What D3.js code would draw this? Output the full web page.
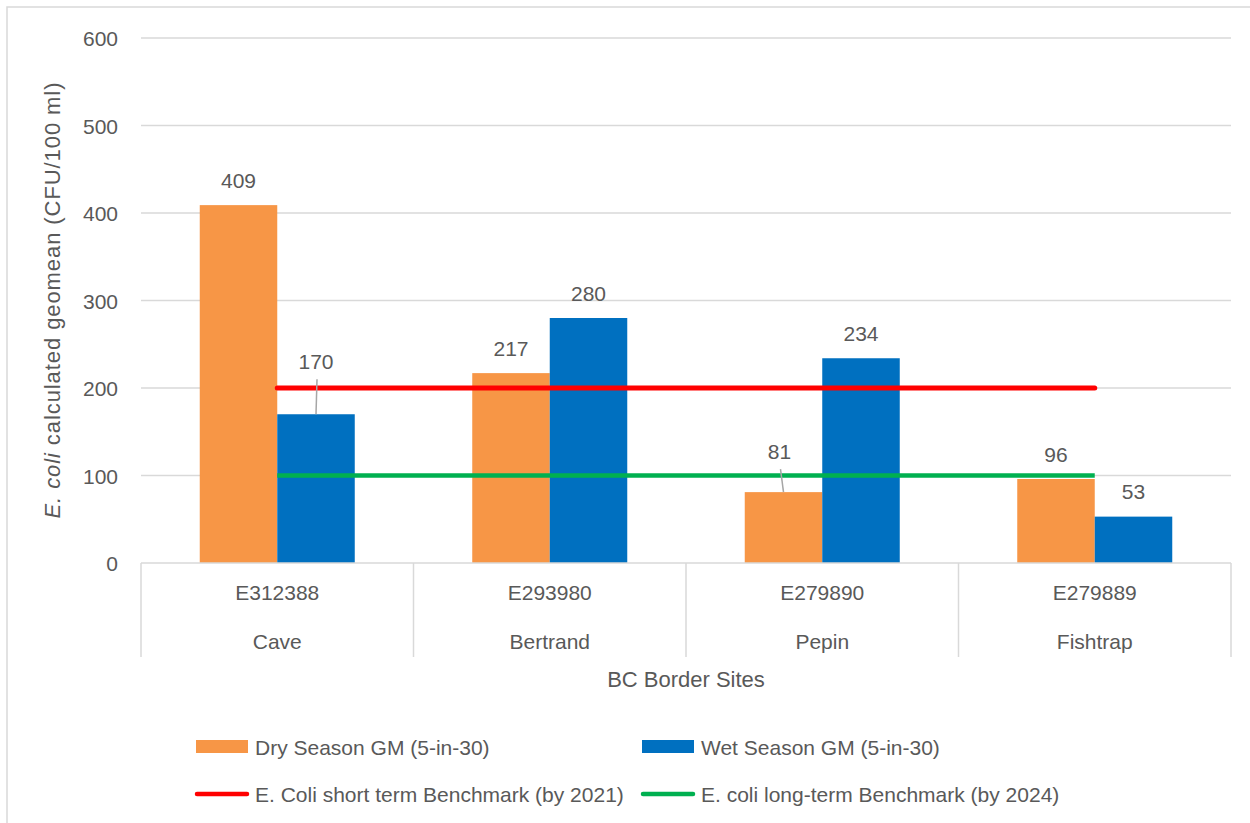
<!DOCTYPE html>
<html>
<head>
<meta charset="utf-8">
<script src="https://cdn.jsdelivr.net/npm/d3@7"></script>
<style>
  html, body { margin: 0; padding: 0; background: #fff; }
  svg { display: block; }
  text { font-family: "Liberation Sans", Arial, sans-serif; fill: #595959; }
</style>
</head>
<body>
<svg id="chart" width="1250" height="823"></svg>
<script>
// Site codes and names (two-level category axis)
const siteCodes = ["E312388", "E293980", "E279890", "E279889"];
const siteNames = ["Cave", "Bertrand", "Pepin", "Fishtrap"];

// Seasonal geometric means, CFU/100 ml
const seriesNames = ["Dry Season GM (5-in-30)", "Wet Season GM (5-in-30)"];
const dryValues = [409, 217, 81, 96];
const wetValues = [170, 280, 234, 53];

// Benchmarks
const shortTermName = "E. Coli short term Benchmark (by 2021)";
const longTermName = "E. coli long-term Benchmark (by 2024)";
const shortTermValues = [200, 200, 200, 200];
const longTermValues = [100, 100, 100, 100];

// Value axis ticks
const yTicks = [0, 100, 200, 300, 400, 500, 600];

const colors = { dry: "#f79646", wet: "#0070c0", shortTerm: "#ff0000", longTerm: "#00b050" };
const textColor = "#595959";
const gridColor = "#d9d9d9";

// Labels that were pulled up with a leader line: [seriesIndex, siteIndex, lift, dx]
const liftedLabels = [[1, 0, 53, 0], [0, 2, 41, -4]];

const svg = d3.select("#chart");
const plot = { left: 141, right: 1231, top: 38, bottom: 563 };

// Chart frame (only top/left edges fall inside the view)
svg.append("rect")
  .attr("x", 7).attr("y", 7).attr("width", 1300).attr("height", 900)
  .attr("fill", "none").attr("stroke", gridColor).attr("stroke-width", 1.5);

const x = d3.scaleBand().domain(siteCodes).range([plot.left, plot.right]).padding(0);
const xs = d3.scaleBand().domain([0, 1]).range([0, x.bandwidth()]).paddingInner(0).paddingOuter(0.758);
const y = d3.scaleLinear().domain([0, 600]).range([plot.bottom, plot.top]);

// Gridlines
svg.append("g").selectAll("line").data(yTicks.filter(d => d > 0)).join("line")
  .attr("x1", plot.left).attr("x2", plot.right)
  .attr("y1", d => y(d)).attr("y2", d => y(d))
  .attr("stroke", gridColor).attr("stroke-width", 1.5);

// Y axis tick labels
const yAxis = d3.axisLeft(y).tickValues(yTicks).tickSize(0).tickPadding(0);
const yg = svg.append("g").attr("transform", `translate(${plot.left - 23},0)`).call(yAxis);
yg.select(".domain").remove();
yg.selectAll("text").attr("font-size", 21).attr("fill", textColor)
  .style("font-family", "'Liberation Sans', Arial, sans-serif").attr("dy", "0.36em");

// Bars
const barData = [];
siteCodes.forEach((c, i) => {
  barData.push({ s: 0, i, code: c, v: dryValues[i] });
  barData.push({ s: 1, i, code: c, v: wetValues[i] });
});
svg.append("g").selectAll("rect").data(barData).join("rect")
  .attr("x", d => x(d.code) + xs(d.s))
  .attr("width", xs.bandwidth())
  .attr("y", d => y(d.v))
  .attr("height", d => y(0) - y(d.v))
  .attr("fill", d => d.s === 0 ? colors.dry : colors.wet);

// Category axis: baseline, separators and two label rows
const axisG = svg.append("g");
axisG.append("line")
  .attr("x1", plot.left).attr("x2", plot.right)
  .attr("y1", y(0)).attr("y2", y(0))
  .attr("stroke", gridColor).attr("stroke-width", 1.5);
const seps = siteCodes.map(c => x(c)).concat([x(siteCodes[siteCodes.length - 1]) + x.bandwidth()]);
axisG.selectAll("line.sep").data(seps).join("line").attr("class", "sep")
  .attr("x1", d => d).attr("x2", d => d)
  .attr("y1", y(0)).attr("y2", y(0) + 94)
  .attr("stroke", gridColor).attr("stroke-width", 1.5);
axisG.selectAll("text.code").data(siteCodes).join("text").attr("class", "code")
  .attr("x", d => x(d) + x.bandwidth() / 2).attr("y", y(0) + 29)
  .attr("dy", "0.36em").attr("text-anchor", "middle").attr("font-size", 21)
  .text(d => d);
axisG.selectAll("text.name").data(siteNames).join("text").attr("class", "name")
  .attr("x", (d, i) => x(siteCodes[i]) + x.bandwidth() / 2).attr("y", y(0) + 78)
  .attr("dy", "0.36em").attr("text-anchor", "middle").attr("font-size", 21)
  .text(d => d);

// Axis titles
svg.append("text")
  .attr("x", (plot.left + plot.right) / 2).attr("y", 679).attr("dy", "0.36em")
  .attr("text-anchor", "middle").attr("font-size", 22)
  .text("BC Border Sites");

const yTitle = svg.append("text")
  .attr("transform", `translate(60,${(plot.top + plot.bottom) / 2}) rotate(-90)`)
  .attr("text-anchor", "middle").attr("font-size", 22)
  .attr("textLength", 436).attr("lengthAdjust", "spacing");
yTitle.append("tspan").attr("font-style", "italic").text("E. coli");
yTitle.append("tspan").text(" calculated geomean  (CFU/100 ml)");

// Benchmark lines across site centres
const lineGen = d3.line().x((d, i) => x(siteCodes[i]) + x.bandwidth() / 2).y(d => y(d));
svg.append("path").datum(shortTermValues).attr("d", lineGen)
  .attr("fill", "none").attr("stroke", colors.shortTerm).attr("stroke-width", 5).attr("stroke-linecap", "round");
svg.append("path").datum(longTermValues).attr("d", lineGen)
  .attr("fill", "none").attr("stroke", colors.longTerm).attr("stroke-width", 4.5);

// Data labels
const labelG = svg.append("g");
barData.forEach(d => {
  const cx = x(d.code) + xs(d.s) + xs.bandwidth() / 2;
  const top = y(d.v);
  const lift = liftedLabels.find(l => l[0] === d.s && l[1] === d.i);
  if (lift) {
    const ly = top - lift[2];
    labelG.append("line")
      .attr("x1", cx + lift[3] + 1).attr("y1", ly + 18)
      .attr("x2", cx).attr("y2", top)
      .attr("stroke", "#a6a6a6").attr("stroke-width", 1.5);
    labelG.append("text").attr("x", cx + lift[3]).attr("y", ly).attr("dy", "0.36em")
      .attr("text-anchor", "middle").attr("font-size", 21).text(d.v);
  } else {
    labelG.append("text").attr("x", cx).attr("y", top - 25).attr("dy", "0.36em")
      .attr("text-anchor", "middle").attr("font-size", 21).text(d.v);
  }
});

// Legend
const legend = svg.append("g");
const legendItems = [
  { name: seriesNames[0], type: "rect", color: colors.dry, x: 196, y: 747 },
  { name: seriesNames[1], type: "rect", color: colors.wet, x: 642, y: 747 },
  { name: shortTermName, type: "line", color: colors.shortTerm, x: 196, y: 794 },
  { name: longTermName, type: "line", color: colors.longTerm, x: 642, y: 794 }
];
legendItems.forEach(it => {
  if (it.type === "rect") {
    legend.append("rect").attr("x", it.x).attr("y", it.y - 7).attr("width", 52).attr("height", 13).attr("fill", it.color);
  } else {
    legend.append("line").attr("x1", it.x + 1).attr("x2", it.x + 51).attr("y1", it.y).attr("y2", it.y)
      .attr("stroke", it.color).attr("stroke-width", 4.5).attr("stroke-linecap", "round");
  }
  legend.append("text").attr("x", it.x + 59).attr("y", it.y).attr("dy", "0.36em")
    .attr("font-size", 21).text(it.name);
});
</script>
</body>
</html>
